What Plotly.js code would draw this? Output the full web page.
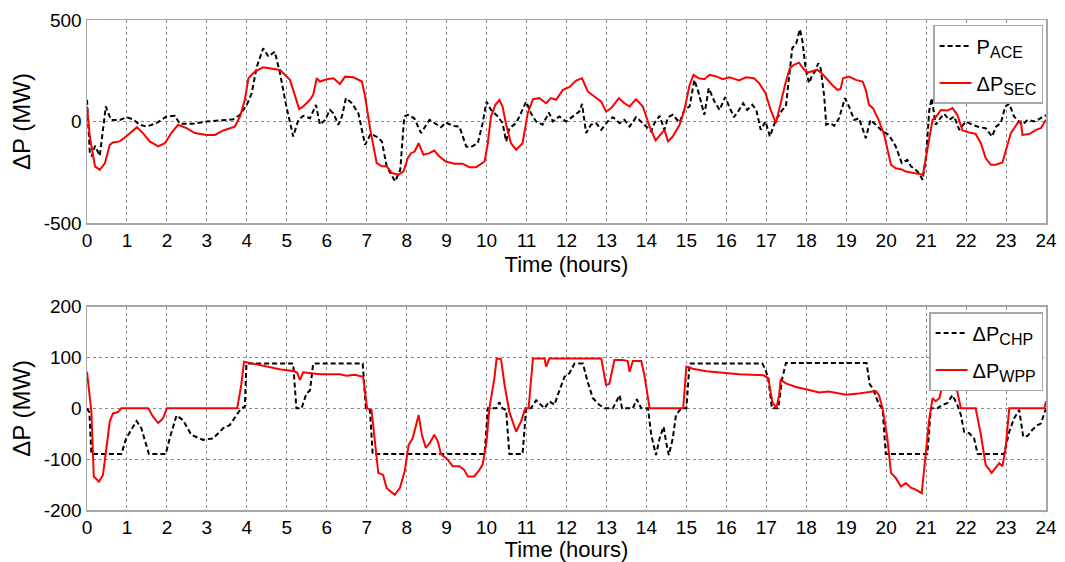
<!DOCTYPE html>
<html>
<head>
<meta charset="utf-8">
<script src="https://cdn.plot.ly/plotly-3.0.1.min.js"></script>
<style>html,body{margin:0;padding:0;background:#fff;}#chart{width:1065px;height:562px;}</style>
</head>
<body>
<div id="chart"></div>
<script>
// ---- Top panel: P_ACE (black dashed) and ΔP_SEC (red) ----
const aceT = [0,0.07,0.12,0.2,0.32,0.47,0.6,0.82,1.0,1.15,1.32,1.49,1.74,1.99,2.2,2.32,2.66,2.99,3.33,3.66,3.83,4.0,4.12,4.25,4.41,4.54,4.7,4.83,4.99,5.16,5.29,5.41,5.58,5.73,5.83,5.96,6.08,6.17,6.29,6.38,6.48,6.63,6.79,6.96,7.1,7.25,7.38,7.5,7.71,7.84,7.94,8.03,8.19,8.36,8.57,8.69,8.86,8.98,9.15,9.32,9.49,9.61,9.78,9.9,10.0,10.11,10.28,10.4,10.49,10.57,10.74,10.86,10.99,11.11,11.24,11.4,11.56,11.66,11.82,11.99,12.16,12.32,12.39,12.49,12.61,12.74,12.87,13.03,13.16,13.33,13.45,13.58,13.74,13.91,14.12,14.2,14.33,14.45,14.54,14.66,14.83,14.95,15.08,15.2,15.31,15.45,15.56,15.7,15.83,15.97,16.07,16.19,16.32,16.42,16.52,16.65,16.75,16.86,16.98,17.09,17.24,17.4,17.49,17.57,17.65,17.75,17.84,17.9,17.99,18.07,18.15,18.22,18.3,18.36,18.45,18.5,18.6,18.7,18.82,18.97,19.07,19.2,19.32,19.49,19.61,19.74,19.91,20.07,20.24,20.39,20.53,20.62,20.74,20.82,20.91,20.99,21.08,21.14,21.24,21.32,21.45,21.58,21.7,21.83,21.99,22.16,22.33,22.49,22.65,22.75,22.87,22.98,23.08,23.2,23.33,23.41,23.54,23.7,23.82,23.95,24.0];
const aceV = [107,-150,-172,-120,-169,74,8,8,21,11,-16,-25,-8,25,28,-11,-11,0,5,11,33,82,139,270,361,320,344,238,74,-74,8,28,16,82,-16,8,57,40,-16,25,115,90,41,-115,-61,-75,-98,-221,-295,-238,25,33,16,-57,8,-8,-28,-5,-21,-25,-123,-126,-107,-8,98,57,25,-8,-98,-33,-8,41,98,41,0,-16,44,0,25,0,25,49,87,-57,-16,-8,-41,0,21,-8,8,-25,21,-8,-49,-8,28,-41,21,33,-5,57,74,205,139,33,164,100,57,120,75,21,57,90,57,82,57,-41,0,-74,8,57,75,221,361,385,454,402,254,189,230,246,287,262,123,-16,-8,-21,16,115,74,8,16,-82,8,-16,-49,-66,-123,-205,-189,-221,-238,-254,-287,-189,57,115,-16,8,38,8,25,-41,0,-16,-28,-33,-74,-25,-8,74,87,25,0,-16,8,0,11,28,30];

const secT = [0,0.07,0.2,0.32,0.45,0.57,0.65,0.82,1.0,1.15,1.25,1.4,1.57,1.78,1.95,2.11,2.28,2.49,2.7,2.99,3.2,3.41,3.7,3.83,3.95,4.04,4.2,4.41,4.62,4.83,5.08,5.2,5.31,5.41,5.58,5.66,5.75,5.83,6.0,6.17,6.33,6.46,6.67,6.88,6.96,7.09,7.25,7.38,7.5,7.63,7.8,7.92,8.03,8.11,8.2,8.3,8.42,8.57,8.69,8.82,8.98,9.19,9.4,9.57,9.74,9.95,10.03,10.11,10.22,10.32,10.4,10.49,10.61,10.74,10.9,11.03,11.16,11.32,11.49,11.61,11.74,11.91,12.07,12.24,12.39,12.53,12.74,12.87,12.99,13.12,13.31,13.45,13.58,13.74,13.91,14.08,14.23,14.37,14.45,14.54,14.66,14.83,14.95,15.08,15.18,15.31,15.45,15.58,15.75,15.91,16.08,16.2,16.32,16.49,16.69,16.82,16.98,17.11,17.24,17.36,17.49,17.59,17.69,17.82,17.94,18.03,18.15,18.28,18.4,18.53,18.65,18.78,18.86,18.92,19.07,19.24,19.41,19.49,19.57,19.67,19.81,19.95,20.03,20.12,20.24,20.37,20.49,20.66,20.82,20.92,21.03,21.16,21.24,21.37,21.53,21.66,21.78,21.91,22.08,22.24,22.37,22.49,22.62,22.74,22.91,23.01,23.12,23.29,23.37,23.41,23.58,23.75,23.87,24.0];
const secV = [74,-74,-221,-238,-205,-115,-103,-98,-70,-44,-28,-57,-98,-123,-107,-57,-16,-33,-57,-67,-66,-44,-25,25,107,213,246,267,262,254,205,123,61,74,107,131,213,197,208,213,185,221,218,197,123,-41,-205,-221,-221,-254,-262,-246,-180,-156,-148,-107,-164,-156,-143,-172,-197,-208,-208,-225,-225,-197,-107,25,82,107,74,-16,-107,-139,-107,41,110,115,90,115,107,156,169,202,213,148,115,98,49,66,115,90,74,110,74,-25,-93,-57,-41,-98,-74,-16,57,180,230,213,208,230,222,208,218,210,202,218,213,189,139,57,-8,90,197,262,279,290,257,241,246,254,235,205,180,156,160,213,221,205,197,156,82,66,8,-66,-139,-213,-230,-235,-246,-251,-257,-262,-139,8,21,57,54,66,33,-44,-54,-61,-107,-180,-213,-213,-202,-131,-57,-8,0,-66,-62,-41,-33,8];

// ---- Bottom panel: ΔP_CHP (black dashed) and ΔP_WPP (red) ----
const chpT = [0,0.06,0.11,0.86,0.98,1.24,1.36,1.55,1.97,2.07,2.24,2.4,2.61,2.9,3.16,3.41,3.57,3.74,3.86,3.95,3.99,5.16,5.24,5.37,5.49,5.58,5.66,6.9,6.98,7.08,7.15,9.95,10.03,10.24,10.32,10.4,10.49,10.57,10.9,10.99,11.11,11.24,11.32,11.45,11.57,11.7,11.78,11.95,12.07,12.2,12.41,12.53,12.66,12.82,12.95,13.16,13.33,13.39,13.66,13.76,13.87,14.04,14.12,14.24,14.33,14.43,14.49,14.56,14.66,14.74,14.87,15.0,15.08,16.9,16.97,17.05,17.14,17.3,17.4,17.49,19.51,19.59,19.67,19.82,19.91,19.99,21.03,21.12,21.28,21.41,21.53,21.66,21.78,21.87,21.95,22.08,22.2,22.29,22.95,23.08,23.2,23.33,23.43,23.54,23.66,23.79,23.87,24.0];
const chpV = [0,-8,-90,-90,-59,-25,-39,-90,-90,-59,-14,-23,-52,-62,-59,-39,-33,-13,0,3,88,88,0,0,29,35,88,88,0,-3,-90,-90,0,0,12,0,-3,-90,-90,0,0,16,10,0,14,7,26,62,69,88,88,52,20,7,0,0,26,0,0,18,0,0,-52,-92,-59,-36,-65,-92,-59,-13,0,0,88,88,78,59,0,0,59,89,89,47,39,7,0,-90,-90,0,0,7,10,26,7,-13,-46,-49,-59,-90,-90,-46,-20,-3,-56,-54,-42,-33,-30,0];

const wppT = [0,0.05,0.11,0.17,0.3,0.4,0.48,0.57,0.65,0.78,0.86,1.53,1.65,1.78,1.9,2.0,3.76,3.86,3.93,4.32,4.82,5.19,5.26,5.33,5.41,5.83,6.33,6.49,6.7,6.91,7.01,7.12,7.2,7.29,7.41,7.5,7.7,7.83,7.95,8.05,8.15,8.3,8.38,8.48,8.58,8.69,8.78,8.86,9.03,9.15,9.32,9.44,9.53,9.69,9.82,9.9,10.0,10.07,10.2,10.25,10.36,10.45,10.57,10.74,10.86,10.97,11.05,11.16,11.45,11.49,11.57,12.87,12.99,13.07,13.2,13.41,13.53,13.58,13.66,13.87,13.95,14.08,14.83,14.92,15.0,15.16,15.5,15.83,16.32,16.94,17.05,17.15,17.25,17.32,17.36,17.49,17.74,18.07,18.32,18.57,18.99,19.32,19.74,19.82,19.91,20.03,20.12,20.24,20.37,20.49,20.62,20.74,20.89,20.97,21.07,21.16,21.24,21.33,21.39,21.5,21.6,21.7,21.78,21.87,22.24,22.37,22.49,22.64,22.74,22.83,22.91,22.99,23.08,23.96,24.0];
const wppV = [72,39,-7,-134,-144,-131,-85,-26,-10,-7,0,0,-16,-29,-20,0,0,46,92,85,77,73,70,56,71,67,67,64,66,62,0,-3,-65,-127,-131,-157,-170,-157,-124,-72,-59,-13,-52,-78,-68,-52,-65,-90,-101,-114,-114,-121,-134,-134,-121,-111,-65,0,62,98,97,46,-7,-46,-26,0,0,98,98,82,98,98,46,48,95,95,93,72,93,93,65,0,0,0,82,78,73,71,67,65,59,13,0,26,56,49,42,36,31,33,27,29,34,26,0,-59,-127,-137,-154,-147,-156,-160,-167,-105,-26,20,14,20,39,50,45,50,33,0,0,-52,-111,-127,-118,-108,-114,-78,0,0,14];

const xTicks = [0,1,2,3,4,5,6,7,8,9,10,11,12,13,14,15,16,17,18,19,20,21,22,23,24];
const yTicksTop = [-500,0,500];
const yTicksBot = [-200,-100,0,100,200];
const mainNames = ['P','ΔP','ΔP','ΔP'];
const subNames = ['ACE','SEC','CHP','WPP'];
const names = mainNames.map((m,i)=> m + '<sub><span style="font-size:16px">' + subNames[i] + '</span></sub>');

const black = {color:'#000000', width:2, dash:'5px,3px'};
const red = {color:'#ff0000', width:2};

const traces = [
  {x:aceT, y:aceV, name:names[0], mode:'lines', line:black, xaxis:'x', yaxis:'y', legend:'legend', legendgroup:'a'},
  {x:secT, y:secV, name:names[1], mode:'lines', line:red, xaxis:'x', yaxis:'y', legend:'legend', legendgroup:'b'},
  {x:chpT, y:chpV, name:names[2], mode:'lines', line:black, xaxis:'x2', yaxis:'y2', legend:'legend2', legendgroup:'c'},
  {x:wppT, y:wppV, name:names[3], mode:'lines', line:red, xaxis:'x2', yaxis:'y2', legend:'legend2', legendgroup:'d'}
];

const fam = '"Liberation Sans", Arial, sans-serif';
const font = {family:fam, color:'#000'};
function xax(anchor){
  return {range:[0,24], tickvals:xTicks, ticktext:xTicks.map(String), anchor:anchor,
    showgrid:true, gridcolor:'#8a8a8a', griddash:'dot', gridwidth:1, zeroline:false,
    showline:true, mirror:true, linecolor:'#a6a6a6', linewidth:1.5, ticks:'',
    tickfont:{size:19, family:fam, color:'#000'},
    title:{text:'Time (hours)', font:{size:22, family:fam, color:'#000'}, standoff:6}};
}
function yax(anchor, rng, vals, dom){
  return {range:rng, tickvals:vals, ticktext:vals.map(String), anchor:anchor, domain:dom,
    showgrid:true, gridcolor:'#8a8a8a', griddash:'dot', gridwidth:1, zeroline:false,
    showline:true, mirror:true, linecolor:'#a6a6a6', linewidth:1.5, ticks:'',
    tickfont:{size:19, family:fam, color:'#000'},
    title:{text:'ΔP (MW)', font:{size:24, family:fam, color:'#000'}, standoff:6}};
}
const legendBase = {xanchor:'right', yanchor:'top', bgcolor:'#ffffff', bordercolor:'#a6a6a6', borderwidth:1.5,
  font:{size:20, family:fam, color:'#000'}, itemwidth:32, traceorder:'grouped', tracegroupgap:8};

const layout = {
  width:1065, height:562,
  margin:{l:87, r:19, t:20, b:52},
  paper_bgcolor:'#ffffff', plot_bgcolor:'#ffffff',
  font:font,
  showlegend:true,
  xaxis:xax('y'),
  yaxis:yax('x', [-500,500], yTicksTop, [0.5857,1]),
  xaxis2:xax('y2'),
  yaxis2:yax('x2', [-200,200], yTicksBot, [0,0.4149]),
  legend:Object.assign({x:0.997, y:0.99}, legendBase),
  legend2:Object.assign({x:0.997, y:0.404}, legendBase)
};

Plotly.newPlot('chart', traces, layout, {staticPlot:true, displayModeBar:false});
</script>
</body>
</html>
